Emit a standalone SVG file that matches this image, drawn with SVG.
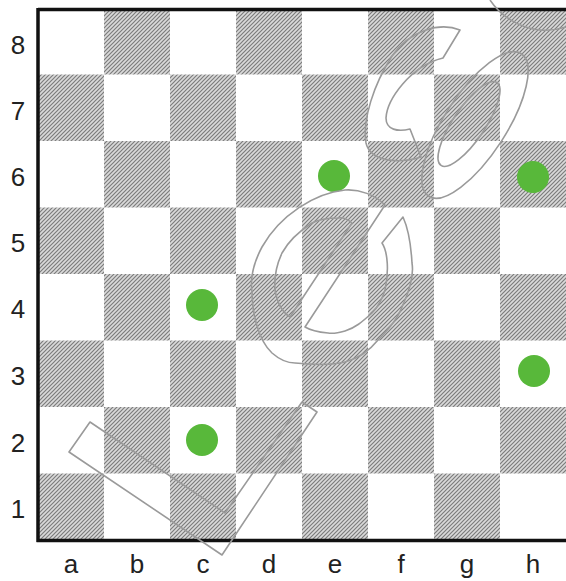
<svg xmlns="http://www.w3.org/2000/svg" width="566" height="581" viewBox="0 0 566 581">
<defs>
<pattern id="hatch" width="4" height="4" patternUnits="userSpaceOnUse">
<rect width="4" height="4" fill="#dadada"/>
<path d="M-1,1 L1,-1 M0,4 L4,0 M3,5 L5,3" stroke="#7c7c7c" stroke-width="1.2"/>
</pattern>
</defs>
<style>
.dk{fill:url(#hatch)}
.dot{fill:#58b83a}
.lbl{font-family:"Liberation Sans",Arial,sans-serif;font-size:26px;fill:#222;text-anchor:middle}
.logo{fill:none;stroke:#9a9a9a;stroke-width:1.6;stroke-linejoin:round}
.border{stroke:#111;stroke-width:3.5;fill:none}
</style>
<rect width="566" height="581" fill="#fff"/>
<g id="squares">
<rect class="dk" x="104" y="8" width="66" height="66.5"/>
<rect class="dk" x="236" y="8" width="66" height="66.5"/>
<rect class="dk" x="368" y="8" width="66" height="66.5"/>
<rect class="dk" x="500" y="8" width="66" height="66.5"/>
<rect class="dk" x="38" y="74.5" width="66" height="66.5"/>
<rect class="dk" x="170" y="74.5" width="66" height="66.5"/>
<rect class="dk" x="302" y="74.5" width="66" height="66.5"/>
<rect class="dk" x="434" y="74.5" width="66" height="66.5"/>
<rect class="dk" x="104" y="141" width="66" height="66.5"/>
<rect class="dk" x="236" y="141" width="66" height="66.5"/>
<rect class="dk" x="368" y="141" width="66" height="66.5"/>
<rect class="dk" x="500" y="141" width="66" height="66.5"/>
<rect class="dk" x="38" y="207.5" width="66" height="66.5"/>
<rect class="dk" x="170" y="207.5" width="66" height="66.5"/>
<rect class="dk" x="302" y="207.5" width="66" height="66.5"/>
<rect class="dk" x="434" y="207.5" width="66" height="66.5"/>
<rect class="dk" x="104" y="274" width="66" height="66.5"/>
<rect class="dk" x="236" y="274" width="66" height="66.5"/>
<rect class="dk" x="368" y="274" width="66" height="66.5"/>
<rect class="dk" x="500" y="274" width="66" height="66.5"/>
<rect class="dk" x="38" y="340.5" width="66" height="66.5"/>
<rect class="dk" x="170" y="340.5" width="66" height="66.5"/>
<rect class="dk" x="302" y="340.5" width="66" height="66.5"/>
<rect class="dk" x="434" y="340.5" width="66" height="66.5"/>
<rect class="dk" x="104" y="407" width="66" height="66.5"/>
<rect class="dk" x="236" y="407" width="66" height="66.5"/>
<rect class="dk" x="368" y="407" width="66" height="66.5"/>
<rect class="dk" x="500" y="407" width="66" height="66.5"/>
<rect class="dk" x="38" y="473.5" width="66" height="66.5"/>
<rect class="dk" x="170" y="473.5" width="66" height="66.5"/>
<rect class="dk" x="302" y="473.5" width="66" height="66.5"/>
<rect class="dk" x="434" y="473.5" width="66" height="66.5"/>
</g>
<g id="board-border">
<path class="border" d="M38,9.5 L566,9.5 M38,8 L38,542 M36.5,540.5 L566,540.5"/>
</g>
<g id="dots">
<circle id="dot-e6" class="dot" cx="334" cy="176" r="16"/>
<circle id="dot-h6" class="dot" cx="533" cy="177" r="16"/>
<circle id="dot-c4" class="dot" cx="202" cy="305" r="16"/>
<circle id="dot-h3" class="dot" cx="534" cy="371" r="16"/>
<circle id="dot-c2" class="dot" cx="202" cy="440" r="16"/>
</g>
<g id="logo">
<polygon class="logo" points="69,452 222,555 317,412 302,402 225,513 90,422"/>
<path class="logo" d="M385,205 C375,195 360,189 345,190 C315,193 280,215 262,247 C254,262 250,278 252,292 C252,312 258,340 272,353 C280,360 288,363 295,363 C315,365 333,365 345,362 C360,358 370,350 378,340 C390,328 398,318 402,307 C410,290 414,275 412,263 C411,245 408,228 403,217 L382,243 C388,252 389,272 385,290 C382,300 378,307 372,313 C362,322 355,328 345,331 C338,333 333,334 328,333 C318,332 310,330 305,327 Z"/>
<path class="logo" d="M352,223 C346,218 342,217 338,218 C330,218 320,219 312,223 C298,232 288,242 282,253 C276,266 274,278 275,290 C277,302 282,312 290,317 Z"/>
<path class="logo" d="M460,30 C440,22 410,30 392,56 C374,84 362,120 366,143 C370,160 395,165 421,157 L410,129 C398,132 386,130 386,118 C387,100 410,66 443,58 Z"/>
<ellipse class="logo" cx="475" cy="125" rx="85" ry="31" transform="rotate(-57 475 125)"/>
<ellipse class="logo" cx="469" cy="124" rx="50" ry="16" transform="rotate(-56 469 124)"/>
<path class="logo" d="M490,0 C500,15 518,28 540,30 C552,31 560,29 566,27"/>
</g>
<g id="rank-labels">
<text class="lbl" x="18" y="54">8</text>
<text class="lbl" x="18" y="120">7</text>
<text class="lbl" x="18" y="186">6</text>
<text class="lbl" x="18" y="252">5</text>
<text class="lbl" x="18" y="318">4</text>
<text class="lbl" x="18" y="385">3</text>
<text class="lbl" x="18" y="452">2</text>
<text class="lbl" x="18" y="518">1</text>
</g>
<g id="file-labels">
<text class="lbl" x="71" y="573">a</text>
<text class="lbl" x="137" y="573">b</text>
<text class="lbl" x="203" y="573">c</text>
<text class="lbl" x="269" y="573">d</text>
<text class="lbl" x="335" y="573">e</text>
<text class="lbl" x="401" y="573">f</text>
<text class="lbl" x="467" y="573">g</text>
<text class="lbl" x="533" y="573">h</text>
</g>
</svg>
